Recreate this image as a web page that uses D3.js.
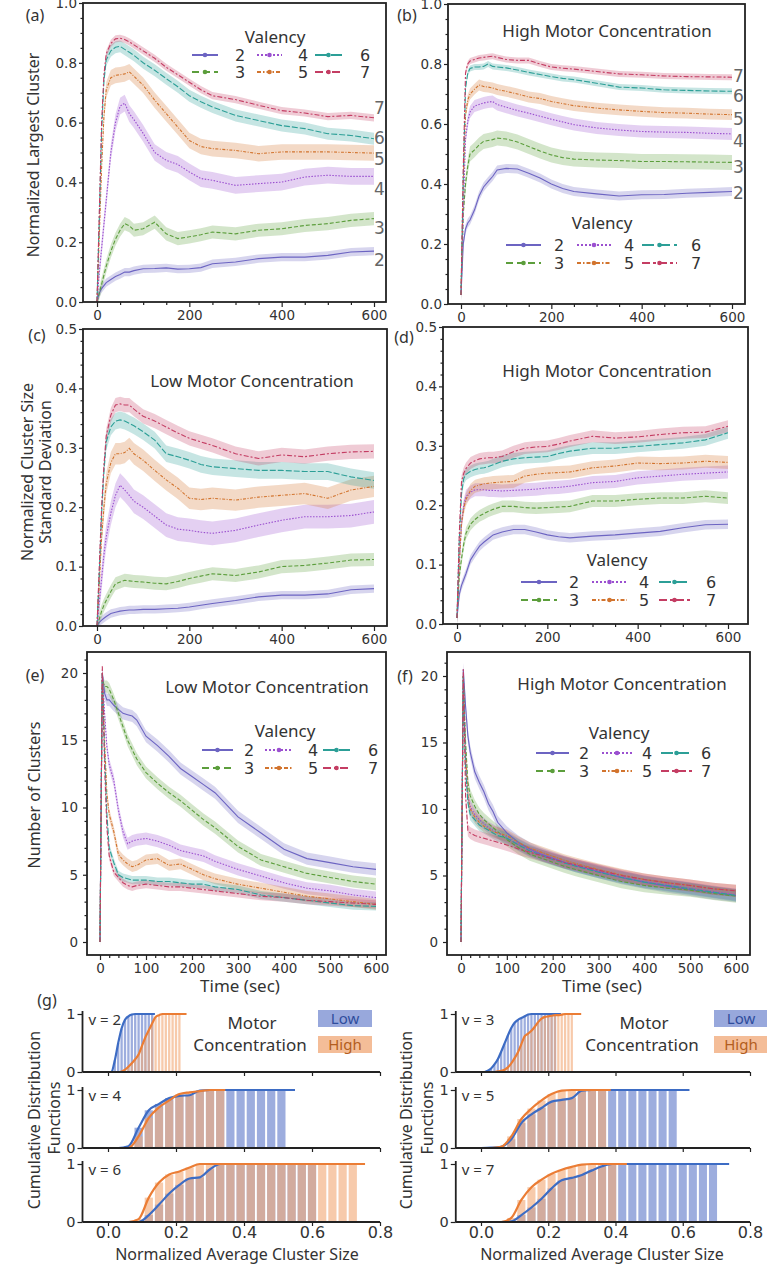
<!DOCTYPE html>
<html><head><meta charset="utf-8">
<script src="https://cdn.jsdelivr.net/npm/d3@7"></script>
<style>body{margin:0;background:#fff}svg{display:block}</style>
</head><body><svg id="c" width="767" height="1268"></svg>
<script>
// ---------- DATA ----------
const T = [0,5,10,15,20,30,40,50,60,70,80,100,125,150,175,200,225,250,300,350,400,450,500,550,600];
const valency = [2,3,4,5,6,7];
const xTicksAD = [0,200,400,600];
const xTicksEF = [0,100,200,300,400,500,600];

// (a) normalized largest cluster, low motor concentration
const aV2 = [0,0.03,0.045,0.055,0.065,0.075,0.085,0.092,0.1,0.1,0.105,0.111,0.112,0.114,0.11,0.111,0.115,0.128,0.134,0.145,0.15,0.15,0.156,0.167,0.17];
const aV3 = [0,0.03,0.06,0.09,0.12,0.17,0.21,0.24,0.262,0.255,0.24,0.245,0.267,0.228,0.212,0.218,0.225,0.234,0.228,0.24,0.245,0.256,0.262,0.273,0.279];
const aV4 = [0,0.1,0.18,0.26,0.34,0.5,0.6,0.655,0.665,0.63,0.61,0.564,0.5,0.474,0.46,0.435,0.413,0.407,0.39,0.396,0.401,0.418,0.424,0.42,0.42];
const aV5 = [0,0.22,0.45,0.62,0.71,0.75,0.758,0.76,0.763,0.77,0.755,0.725,0.675,0.63,0.585,0.54,0.52,0.513,0.507,0.496,0.502,0.502,0.502,0.5,0.498];
const aV6 = [0,0.28,0.57,0.74,0.81,0.84,0.852,0.855,0.845,0.835,0.825,0.8,0.775,0.747,0.72,0.69,0.67,0.652,0.624,0.607,0.59,0.58,0.563,0.557,0.546];
const aV7 = [0,0.3,0.6,0.76,0.83,0.865,0.88,0.882,0.878,0.87,0.86,0.84,0.815,0.785,0.76,0.735,0.71,0.69,0.677,0.658,0.64,0.632,0.62,0.624,0.616];
const aBand = [0.014,0.022,0.028,0.026,0.02,0.012];

// (b) normalized largest cluster, high motor concentration
const bV2 = [0.03,0.2,0.25,0.27,0.28,0.314,0.36,0.39,0.408,0.425,0.447,0.452,0.45,0.436,0.42,0.4,0.385,0.375,0.367,0.36,0.364,0.365,0.369,0.372,0.375];
const bV3 = [0.03,0.3,0.4,0.46,0.5,0.514,0.53,0.542,0.545,0.548,0.553,0.55,0.54,0.525,0.51,0.497,0.488,0.483,0.48,0.478,0.475,0.475,0.474,0.473,0.472];
const bV4 = [0.03,0.3,0.55,0.61,0.64,0.66,0.665,0.67,0.673,0.675,0.665,0.656,0.645,0.636,0.626,0.616,0.607,0.598,0.587,0.58,0.575,0.573,0.572,0.569,0.567];
const bV5 = [0.03,0.4,0.63,0.68,0.7,0.716,0.73,0.725,0.723,0.72,0.715,0.709,0.7,0.69,0.685,0.675,0.668,0.661,0.653,0.647,0.642,0.638,0.636,0.633,0.631];
const bV6 = [0.03,0.42,0.72,0.77,0.785,0.79,0.79,0.792,0.8,0.792,0.79,0.787,0.78,0.772,0.765,0.758,0.752,0.748,0.736,0.723,0.72,0.714,0.712,0.71,0.709];
const bV7 = [0.03,0.45,0.77,0.8,0.81,0.815,0.82,0.822,0.824,0.826,0.822,0.815,0.812,0.812,0.8,0.79,0.786,0.783,0.775,0.767,0.764,0.76,0.758,0.757,0.756];
const bBand = [0.015,0.025,0.02,0.018,0.01,0.01];

// (c) cluster size std, low motor concentration
const cV2 = [0,0.006,0.01,0.013,0.016,0.021,0.023,0.025,0.026,0.027,0.027,0.028,0.028,0.029,0.03,0.032,0.035,0.038,0.043,0.049,0.052,0.052,0.054,0.061,0.063];
const cV3 = [0,0.012,0.025,0.035,0.043,0.058,0.071,0.074,0.077,0.076,0.075,0.074,0.072,0.071,0.075,0.08,0.084,0.088,0.085,0.091,0.1,0.102,0.106,0.111,0.112];
const cV4 = [0,0.04,0.08,0.12,0.15,0.19,0.22,0.237,0.229,0.22,0.21,0.2,0.185,0.17,0.163,0.161,0.158,0.156,0.161,0.17,0.178,0.184,0.184,0.186,0.192];
const cV5 = [0,0.07,0.15,0.2,0.24,0.275,0.29,0.29,0.292,0.299,0.29,0.279,0.262,0.246,0.232,0.215,0.213,0.215,0.212,0.217,0.22,0.223,0.215,0.229,0.235];
const cV6 = [0,0.09,0.19,0.26,0.31,0.335,0.345,0.347,0.345,0.341,0.337,0.327,0.313,0.29,0.285,0.279,0.272,0.268,0.265,0.262,0.262,0.26,0.26,0.251,0.245];
const cV7 = [0,0.1,0.2,0.27,0.32,0.355,0.372,0.374,0.372,0.372,0.365,0.353,0.345,0.335,0.325,0.316,0.31,0.304,0.29,0.282,0.288,0.285,0.29,0.293,0.294];
const cBand = [0.007,0.011,0.02,0.018,0.014,0.012];

// (d) cluster size std, high motor concentration
const dV2 = [0.01,0.05,0.065,0.075,0.085,0.108,0.12,0.131,0.138,0.144,0.15,0.155,0.159,0.159,0.155,0.15,0.147,0.145,0.148,0.15,0.153,0.156,0.162,0.167,0.168];
const dV3 = [0.01,0.08,0.11,0.135,0.153,0.168,0.176,0.182,0.186,0.19,0.193,0.198,0.198,0.196,0.195,0.196,0.197,0.198,0.207,0.207,0.21,0.212,0.212,0.215,0.212];
const dV4 = [0.01,0.1,0.17,0.2,0.215,0.222,0.226,0.226,0.226,0.225,0.225,0.224,0.225,0.226,0.227,0.229,0.23,0.232,0.238,0.24,0.246,0.249,0.252,0.254,0.256];
const dV5 = [0.01,0.1,0.17,0.195,0.21,0.225,0.232,0.234,0.236,0.237,0.238,0.239,0.24,0.249,0.252,0.254,0.255,0.256,0.263,0.266,0.271,0.27,0.271,0.274,0.272];
const dV6 = [0.01,0.14,0.22,0.245,0.252,0.257,0.26,0.262,0.263,0.265,0.268,0.274,0.278,0.28,0.281,0.282,0.287,0.291,0.296,0.296,0.299,0.302,0.305,0.31,0.322];
const dV7 = [0.01,0.15,0.24,0.254,0.262,0.271,0.275,0.278,0.279,0.28,0.28,0.282,0.29,0.296,0.298,0.299,0.303,0.308,0.316,0.313,0.315,0.319,0.322,0.323,0.333];
const dBand = [0.008,0.01,0.011,0.011,0.01,0.01];

// (e) number of clusters, low motor concentration
const eV2 = [0,20,18.5,18,18,17.6,17.3,17,16.9,16.8,16.5,15.3,14.6,13.8,12.9,12.3,11.7,11.1,9.3,8.1,6.9,6.2,5.9,5.6,5.4];
const eV3 = [0,19.5,19,19,18.8,18,17,16,15,14.3,13.6,12.6,11.8,11.1,10.5,9.8,9.1,8.5,7.1,6.1,5.6,5.1,4.8,4.5,4.3];
const eV4 = [0,20,17,14.5,13.2,12,9.8,8.2,7.3,7.5,7.6,7.7,7.5,7.2,6.8,6.6,6.4,6,5.4,4.9,4.4,4,3.8,3.5,3.3];
const eV5 = [0,20,15,11,9.5,8.2,6.5,6.1,5.8,5.6,5.7,6.1,6.2,5.7,5.8,5.4,5,4.7,4.3,4,3.7,3.4,3.2,3,2.8];
const eV6 = [0,20,14,9.5,7,5.9,5,4.8,4.7,4.6,4.6,4.6,4.5,4.5,4.4,4.3,4.3,4.1,3.9,3.5,3.3,3.1,2.9,2.7,2.65];
const eV7 = [0,20.5,13,8.5,6.4,5.2,4.8,4.4,4.2,4.1,4.2,4.3,4.2,4.1,4.1,4,3.9,3.8,3.6,3.4,3.3,3.1,3,2.9,2.8];
const eBand = [0.45,0.45,0.45,0.4,0.3,0.3];

// (f) number of clusters, high motor concentration
const fV2 = [0,20.5,17.7,15.5,14.3,12.8,12,11.3,10.4,9.8,9,8.2,7.5,7,6.6,6.3,6,5.75,5.3,4.85,4.5,4.2,3.95,3.7,3.5];
const fV3 = [0,20,15,12,11,10.2,9.6,9.2,8.9,8.6,8.3,7.7,7.1,6.6,6.3,6,5.7,5.45,5,4.55,4.25,4.05,3.9,3.65,3.45];
const fV4 = [0,20,14,11,10.2,9.6,9.2,8.9,8.6,8.4,8.2,7.9,7.35,6.9,6.6,6.3,6,5.75,5.3,4.9,4.55,4.3,4.05,3.8,3.55];
const fV5 = [0,20,14,11,10,9.4,9,8.7,8.5,8.3,8.2,8,7.5,7.05,6.75,6.45,6.15,5.9,5.45,5.05,4.7,4.45,4.25,4,3.85];
const fV6 = [0,20,13,10.5,9.6,9.2,8.8,8.6,8.4,8.2,8,7.8,7.3,6.85,6.5,6.2,5.95,5.7,5.25,4.85,4.5,4.25,4,3.75,3.5];
const fV7 = [0,20.5,11,8.4,8.2,8,7.9,7.8,7.7,7.6,7.5,7.3,7,6.75,6.5,6.25,6,5.8,5.4,5,4.7,4.45,4.25,4,3.85];
const fBand = [0.5,0.5,0.45,0.45,0.45,0.45];

// (g) cumulative distributions of normalized average cluster size (bins from 0)
const g2Low  = [0,0,0.2,0.5,0.75,0.9,0.96,0.99,1,1,1,1,1,1];
const g2High = [0,0,0,0,0.01,0.04,0.09,0.15,0.22,0.3,0.45,0.6,0.72,0.84,0.95,0.98,1,1,1,1,1,1];
const g3Low  = [0,0,0.02,0.06,0.13,0.22,0.35,0.49,0.63,0.76,0.85,0.9,0.93,0.96,0.99,1,1,1,1,1,1,1,1];
const g3High = [0,0,0,0,0,0.01,0.02,0.04,0.08,0.15,0.24,0.34,0.48,0.62,0.66,0.71,0.78,0.86,0.92,0.95,0.96,0.97,0.98,0.98,0.99,1,1,1];
const g4Low  = [0,0,0.03,0.35,0.65,0.76,0.86,0.9,0.91,0.99,1,1,1,1,1,1,1,1];
const g4High = [0,0,0,0.2,0.52,0.7,0.82,0.93,0.96,0.98,1,1];
const g5Low  = [0,0.005,0.02,0.15,0.43,0.58,0.69,0.8,0.83,0.86,0.99,1,1,1,1,1,1,1,1,1];
const g5High = [0,0,0.02,0.2,0.5,0.68,0.82,0.93,0.99,1,1,1,1];
const g6Low  = [0,0,0,0,0.12,0.3,0.49,0.64,0.75,0.77,0.91,1,1,1,1,1,1,1,1,1,1];
const g6High = [0,0,0,0.05,0.42,0.68,0.82,0.87,0.94,1,1,1,1,1,1,1,1,1,1,1,1,1,1,1,1];
const g7Low  = [0,0,0,0.01,0.12,0.25,0.4,0.58,0.72,0.76,0.81,0.89,0.96,1,1,1,1,1,1,1,1,1,1,1];
const g7High = [0,0,0,0.07,0.38,0.6,0.73,0.83,0.9,0.95,0.99,1,1,1];
const gLineEnd = {2:[0.138,0.231],3:[0.238,0.298],4:[0.55,0.345],5:[0.62,0.386],6:[0.62,0.756],7:[0.738,0.434]};

// ---------- STYLE ----------
const colors = ['#6c64c2','#5c9e3c','#9b50d0','#d2742e','#2c9f97','#c43d63'];
const lineDash = [null,'4,2','1.5,1.5','3,1.5,1,1.5','6,2','5,2,2,2'];
const legDash = [null,'7,4','2,2','4,2,1.5,2','12,4','8,3,3,3'];
const NUM = "'DejaVu Sans', Verdana, sans-serif";
const TXT = "'Noto Sans', 'Open Sans', sans-serif";
const svg = d3.select('#c');

function styleAxis(sel, fs) {
  sel.select('.domain').remove();
  sel.selectAll('.tick line').attr('stroke','#222').attr('stroke-width',1.2);
  sel.selectAll('.tick text').attr('font-family',NUM).attr('font-size',fs).attr('fill','#333');
}

function range(a,b,s){const r=[];for(let v=a;v<=b+1e-9;v+=s)r.push(+v.toFixed(4));return r;}

function timePanel(p) {
  const x = d3.scaleLinear().domain([0,600]).range(p.xr);
  const y = d3.scaleLinear().domain(p.yd).range(p.yr);
  const [L,Tp,R,B] = p.frame;
  const g = svg.append('g');
  const cid = 'clip'+p.id;
  svg.append('clipPath').attr('id',cid).append('rect').attr('x',L).attr('y',Tp).attr('width',R-L).attr('height',B-Tp);
  const plot = g.append('g').attr('clip-path',`url(#${cid})`);
  p.series.forEach((s,i)=>{
    const area = d3.area().x((d,j)=>x(T[j])).y0(d=>y(d-p.band[i])).y1(d=>y(d+p.band[i]));
    plot.append('path').datum(s).attr('d',area).attr('fill',colors[i]).attr('fill-opacity',0.27);
  });
  p.series.forEach((s,i)=>{
    const line = d3.line().x((d,j)=>x(T[j])).y(d=>y(d));
    plot.append('path').datum(s).attr('d',line).attr('fill','none').attr('stroke',colors[i])
      .attr('stroke-width',1.1).attr('stroke-dasharray',lineDash[i]);
  });
  g.append('rect').attr('x',L).attr('y',Tp).attr('width',R-L).attr('height',B-Tp)
    .attr('fill','none').attr('stroke','#222').attr('stroke-width',1.8);
  const xa = g.append('g').attr('transform',`translate(0,${B})`)
    .call(d3.axisBottom(x).tickValues(p.xTicks).tickSize(5).tickPadding(3).tickFormat(d3.format('d')));
  styleAxis(xa,13.5);
  const xm = g.append('g').attr('transform',`translate(0,${B})`)
    .call(d3.axisBottom(x).tickValues(p.xMinor.filter(v=>!p.xTicks.includes(v))).tickSize(3).tickFormat(''));
  styleAxis(xm,10);
  const ya = g.append('g').attr('transform',`translate(${L},0)`)
    .call(d3.axisLeft(y).tickValues(p.yTicks).tickSize(4).tickPadding(p.yPad).tickFormat(p.yFmt));
  styleAxis(ya,13.5);
  const ym = g.append('g').attr('transform',`translate(${L},0)`)
    .call(d3.axisLeft(y).tickValues(p.yMinor.filter(v=>!p.yTicks.some(t=>Math.abs(t-v)<1e-6))).tickSize(2.5).tickFormat(''));
  styleAxis(ym,10);
  return {x,y,g};
}

function legend(L) {
  svg.append('text').attr('x',L.cx).attr('y',L.ty).attr('text-anchor','middle')
    .attr('font-family',TXT).attr('font-size',17).attr('fill','#333').text('Valency');
  valency.forEach((v,i)=>{
    const col = Math.floor(i/2), row = i%2;
    const [x0,x1,lx] = L.cols[col];
    const yy = L.rows[row];
    svg.append('line').attr('x1',x0).attr('x2',x1).attr('y1',yy).attr('y2',yy)
      .attr('stroke',colors[i]).attr('stroke-width',2).attr('stroke-dasharray',legDash[i]);
    svg.append('circle').attr('cx',(x0+x1)/2).attr('cy',yy).attr('r',2.3).attr('fill',colors[i]);
    svg.append('text').attr('x',lx).attr('y',yy+5.5).attr('text-anchor','middle')
      .attr('font-family',NUM).attr('font-size',16).attr('fill','#333').text(v);
  });
}

function title(x,y,t){
  svg.append('text').attr('x',x).attr('y',y).attr('text-anchor','middle')
    .attr('font-family',TXT).attr('font-size',17).attr('fill','#333').text(t);
}
function panelLabel(x,y,t){
  svg.append('text').attr('x',x).attr('y',y).attr('text-anchor','middle')
    .attr('font-family',TXT).attr('font-size',16).attr('fill','#333').text(t);
}
function yLabel(x,y,t,fs){
  svg.append('text').attr('transform',`translate(${x},${y}) rotate(-90)`).attr('text-anchor','middle')
    .attr('font-family',TXT).attr('font-size',fs||16).attr('fill','#333').text(t);
}

const fmt1 = d3.format('.1f');
timePanel({id:'a',series:[aV2,aV3,aV4,aV5,aV6,aV7],band:aBand,frame:[83,3,386,302],
  xr:[97,374],yd:[0,1],yr:[302,3],xTicks:xTicksAD,xMinor:range(0,600,50),
  yTicks:[0,0.2,0.4,0.6,0.8,1.0],yMinor:range(0,1,0.05),yFmt:fmt1,yPad:2});
timePanel({id:'b',series:[bV2,bV3,bV4,bV5,bV6,bV7],band:bBand,frame:[448,4,745,304],
  xr:[461,732],yd:[0,1],yr:[304,4],xTicks:xTicksAD,xMinor:range(0,600,50),
  yTicks:[0,0.2,0.4,0.6,0.8,1.0],yMinor:range(0,1,0.05),yFmt:fmt1,yPad:2});
timePanel({id:'c',series:[cV2,cV3,cV4,cV5,cV6,cV7],band:cBand,frame:[83,329,387,626],
  xr:[97,374],yd:[0,0.5],yr:[626,329],xTicks:xTicksAD,xMinor:range(0,600,50),
  yTicks:[0,0.1,0.2,0.3,0.4,0.5],yMinor:range(0,0.5,0.02),yFmt:fmt1,yPad:2});
timePanel({id:'d',series:[dV2,dV3,dV4,dV5,dV6,dV7],band:dBand,frame:[443,327,748,624],
  xr:[457,728],yd:[0,0.5],yr:[624,327],xTicks:xTicksAD,xMinor:range(0,600,50),
  yTicks:[0,0.1,0.2,0.3,0.4,0.5],yMinor:range(0,0.5,0.02),yFmt:fmt1,yPad:2});
timePanel({id:'e',series:[eV2,eV3,eV4,eV5,eV6,eV7],band:eBand,frame:[87,652,386,955],
  xr:[100,376],yd:[0,20],yr:[942,673],xTicks:xTicksEF,xMinor:range(0,600,20),
  yTicks:[0,5,10,15,20],yMinor:range(0,21,1),yFmt:d3.format('d'),yPad:5});
timePanel({id:'f',series:[fV2,fV3,fV4,fV5,fV6,fV7],band:fBand,frame:[447,652,750,955],
  xr:[461,736],yd:[0,20],yr:[942,676],xTicks:xTicksEF,xMinor:range(0,600,20),
  yTicks:[0,5,10,15,20],yMinor:range(0,21,1),yFmt:d3.format('d'),yPad:5});

// end labels
const endA = [[2,259],[3,227],[4,188],[5,158],[6,137],[7,107]];
endA.forEach(([v,yy])=>svg.append('text').attr('x',374).attr('y',yy+6.5).attr('font-family',NUM)
  .attr('font-size',17).attr('fill','#666').text(v));
const endB = [[2,192],[3,166],[4,140],[5,118],[6,95],[7,75]];
endB.forEach(([v,yy])=>svg.append('text').attr('x',733).attr('y',yy+6.5).attr('font-family',NUM)
  .attr('font-size',17).attr('fill','#666').text(v));

legend({cx:275,ty:43,rows:[55,72],cols:[[192,218,240],[257,282,303],[315,342,365]]});
legend({cx:602,ty:229,rows:[245,263],cols:[[506,541,559],[577,611,629],[642,677,696]]});
legend({cx:617,ty:566,rows:[582,600],cols:[[521,557,574],[592,627,644],[659,690,711]]});
legend({cx:285,ty:737,rows:[750,768],cols:[[202,233,249],[265,293,313],[323,350,373]]});
legend({cx:619,ty:739,rows:[753,771],cols:[[536,569,584],[602,632,647],[661,692,706]]});

title(607,37,'High Motor Concentration');
title(252,387,'Low Motor Concentration');
title(607,377,'High Motor Concentration');
title(267,693,'Low Motor Concentration');
title(622,690,'High Motor Concentration');

panelLabel(35,21,'(a)'); panelLabel(407,21,'(b)');
panelLabel(37,341,'(c)'); panelLabel(404,343,'(d)');
panelLabel(35,681,'(e)'); panelLabel(405,682,'(f)');
panelLabel(47,1006,'(g)');

yLabel(39,155,'Normalized Largest Cluster');
yLabel(33,472,'Normalized Cluster Size');
yLabel(51,472,'Standard Deviation');
yLabel(40,795,'Number of Clusters');
svg.append('text').attr('x',240).attr('y',992).attr('text-anchor','middle').attr('font-family',TXT).attr('font-size',17).attr('fill','#333').text('Time (sec)');
svg.append('text').attr('x',602).attr('y',992).attr('text-anchor','middle').attr('font-family',TXT).attr('font-size',17).attr('fill','#333').text('Time (sec)');

// ---------- (g) CDF charts ----------
const rowsY = [[1072,1014],[1148,1090],[1222,1164]];
function cdfChart(c) {
  const xs = d3.scaleLinear().domain([0,0.8]).range(c.side===0?[108,380]:[481,750]);
  const ys = d3.scaleLinear().domain([0,1]).range(rowsY[c.row]);
  const g = svg.append('g');
  const bw = (xs(c.step)-xs(0)) - c.gap;
  [[c.low,'#8499d6',0.8],[c.high,'#f2a978',0.62]].forEach(([arr,col,op])=>{
    g.selectAll(null).data(arr).enter().append('rect')
      .attr('x',(d,i)=>xs(i*c.step)-bw/2).attr('y',d=>ys(d)).attr('width',bw)
      .attr('height',d=>ys(0)-ys(d)).attr('fill',col).attr('fill-opacity',op);
  });
  const ends = gLineEnd[c.v];
  [[c.low,'#3d6cc4',ends[0]],[c.high,'#eb7d35',ends[1]]].forEach(([arr,col,end])=>{
    const pts = arr.map((d,i)=>[i*c.step,d]);
    pts.push([end,arr[arr.length-1]]);
    g.append('path').datum(pts).attr('d',d3.line().curve(d3.curveMonotoneX).x(d=>xs(d[0])).y(d=>ys(d[1])))
      .attr('fill','none').attr('stroke',col).attr('stroke-width',2.2);
  });
  const x0 = xs(-0.075);
  g.append('line').attr('x1',x0).attr('x2',xs(0.8)).attr('y1',ys(0)).attr('y2',ys(0)).attr('stroke','#222').attr('stroke-width',1.8);
  g.append('line').attr('x1',x0).attr('x2',x0).attr('y1',ys(0)).attr('y2',ys(1)-3).attr('stroke','#222').attr('stroke-width',1.8);
  const xa = g.append('g').attr('transform',`translate(0,${ys(0)})`)
    .call(d3.axisBottom(xs).tickValues([0,0.2,0.4,0.6,0.8]).tickSize(4).tickPadding(1).tickFormat(c.bottom?fmt1:''));
  styleAxis(xa,16);
  const ya = g.append('g').attr('transform',`translate(${x0},0)`)
    .call(d3.axisLeft(ys).tickValues([0,1]).tickSize(5).tickPadding(2).tickFormat(d3.format('d')));
  styleAxis(ya,14.5);
  g.append('text').attr('x',x0+6).attr('y',ys(1)+11).attr('font-family',TXT).attr('font-size',15)
    .attr('fill','#333').text('v = '+c.v);
}
cdfChart({v:2,side:0,row:0,step:0.01,gap:1.1,low:g2Low,high:g2High,bottom:false});
cdfChart({v:4,side:0,row:1,step:0.03,gap:2,low:g4Low,high:g4High,bottom:false});
cdfChart({v:6,side:0,row:2,step:0.03,gap:2,low:g6Low,high:g6High,bottom:true});
cdfChart({v:3,side:1,row:0,step:0.01,gap:1.1,low:g3Low,high:g3High,bottom:false});
cdfChart({v:5,side:1,row:1,step:0.03,gap:2,low:g5Low,high:g5High,bottom:false});
cdfChart({v:7,side:1,row:2,step:0.03,gap:2,low:g7Low,high:g7High,bottom:true});

function cdfLegend(cx, bx, bw) {
  svg.append('text').attr('x',cx).attr('y',1029).attr('text-anchor','middle').attr('font-family',TXT).attr('font-size',17).attr('fill','#333').text('Motor');
  svg.append('text').attr('x',cx-2).attr('y',1051).attr('text-anchor','middle').attr('font-family',TXT).attr('font-size',17).attr('fill','#333').text('Concentration');
  svg.append('rect').attr('x',bx).attr('y',1010).attr('width',bw).attr('height',17).attr('fill','#98a8dc');
  svg.append('rect').attr('x',bx).attr('y',1036).attr('width',bw).attr('height',17).attr('fill','#f4bd98');
  svg.append('text').attr('x',bx+27).attr('y',1024).attr('text-anchor','middle').attr('font-family',TXT).attr('font-size',15).attr('fill','#2f4d9c').text('Low');
  svg.append('text').attr('x',bx+27).attr('y',1050).attr('text-anchor','middle').attr('font-family',TXT).attr('font-size',15).attr('fill','#b35d20').text('High');
}
cdfLegend(252,318,54);
cdfLegend(644,714,56);

function cdfYLabel(x1,x2){
  yLabel(x1,1120,'Cumulative Distribution',16);
  yLabel(x2,1118,'Functions',16);
}
cdfYLabel(40,60);
cdfYLabel(412,433);
svg.append('text').attr('x',237).attr('y',1260).attr('text-anchor','middle').attr('font-family',TXT).attr('font-size',16).attr('fill','#333').text('Normalized Average Cluster Size');
svg.append('text').attr('x',602).attr('y',1260).attr('text-anchor','middle').attr('font-family',TXT).attr('font-size',16).attr('fill','#333').text('Normalized Average Cluster Size');
</script>
</body></html>
